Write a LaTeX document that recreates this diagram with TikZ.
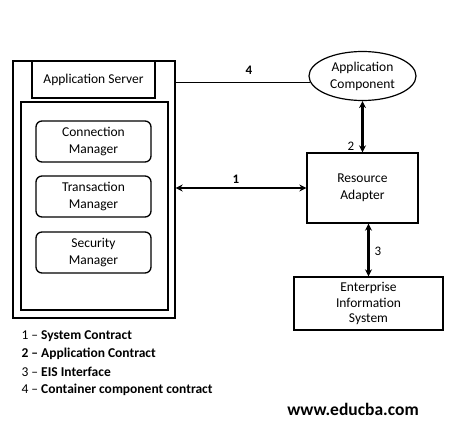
\documentclass[tikz,border=0pt]{standalone}
\usepackage{fontspec}
\setmainfont{Carlito}
\usetikzlibrary{shapes.geometric,arrows.meta,positioning,calc}
\begin{document}
\begin{tikzpicture}[x=1pt,y=-1pt,
  box/.style={draw,line width=1.3pt,inner sep=0pt},
  mgr/.style={draw,line width=1.3pt,rounded corners=6pt,minimum width=115pt,minimum height=41pt,align=center,font=\fontsize{13.5}{17}\selectfont},
  dbl/.style={line width=2.2pt,{Stealth[length=7pt,width=7pt]}-{Stealth[length=7pt,width=7pt]}},
  lbl/.style={font=\fontsize{13}{15}\selectfont},
  leg/.style={anchor=west,font=\fontsize{13.5}{15}\selectfont}
]
\useasboundingbox (0,0) rectangle (450,436);
% outer container
\node[box,minimum width=162pt,minimum height=257pt] (outer) at (94,189.5) {};
\node[box,minimum width=123pt,minimum height=37pt,font=\fontsize{13.5}{15}\selectfont] (app) at (93.5,79.5) {Application Server};
\node[box,minimum width=147pt,minimum height=208pt] (inner) at (94.5,206) {};
\node[mgr] (cm) at (93.5,141.5) {Connection\\Manager};
\node[mgr] (tm) at (93.5,196.5) {Transaction\\Manager};
\node[mgr] (sm) at (93.5,252.5) {Security\\Manager};
% right side
\node[draw,ellipse,line width=1.2pt,minimum width=107pt,minimum height=49pt,inner sep=0pt,align=center,font=\fontsize{13.5}{17}\selectfont] (ac) at (362.5,76) {Application\\Component};
\node[box,minimum width=111pt,minimum height=70pt,align=center,font=\fontsize{13.5}{17}\selectfont] (ra) at (362.5,188) {Resource\\Adapter};
\node[box,minimum width=149pt,minimum height=53pt,align=center,font=\fontsize{13.5}{15.5}\selectfont] (eis) at (368.5,303.5) {Enterprise\\Information\\System};
% connectors
\draw[line width=1.2pt] (ac.187) -- (ac.187 -| outer.east);
\draw[dbl] (outer.east |- ra.west) -- (ra.west);
\draw[dbl] (ac.south) -- (ra.north);
\draw[dbl] (ra.south -| eis.north) -- (eis.north);
% labels
\node[font=\fontsize{13}{15}\bfseries] (n4) at (249,70) {4};
\node[font=\fontsize{13}{15}\bfseries] (n1) at (236,179) {1};
\node[lbl] (n2) at (351,146) {2};
\node[lbl] (n3) at (378,251) {3};
% legend
\node[leg] (g1) at (18,336) {1 -- \textbf{System Contract}};
\node[leg] (g2) at (18,354) {\textbf{2 -- Application Contract}};
\node[leg] (g3) at (18,372) {3 -- \textbf{EIS Interface}};
\node[leg] (g4) at (18,390) {4 -- \textbf{Container component contract}};
\node[font=\fontsize{17.5}{20}\bfseries] (web) at (353,409) {www.educba.com};
\end{tikzpicture}
\end{document}
